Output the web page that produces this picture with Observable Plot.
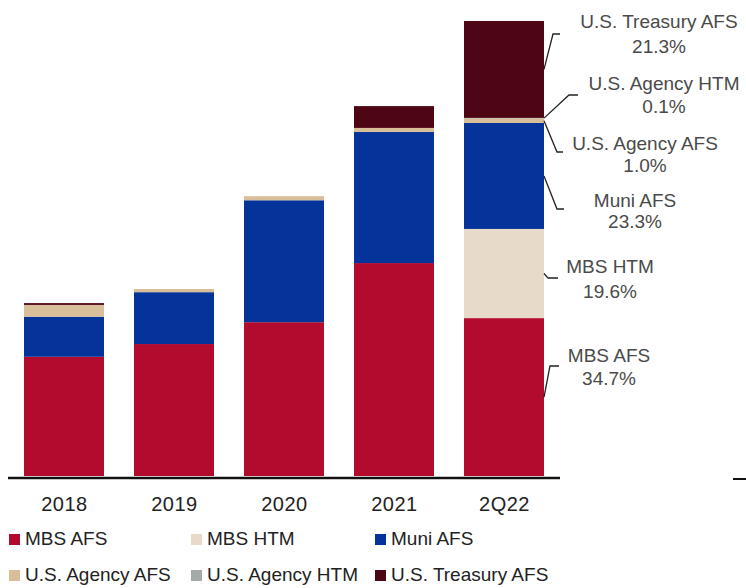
<!DOCTYPE html>
<html><head><meta charset="utf-8">
<script src="https://cdn.jsdelivr.net/npm/d3@7"></script>
<script src="https://cdn.jsdelivr.net/npm/@observablehq/plot@0.6"></script>
<style>
body{margin:0;background:#fff;font-family:"Liberation Sans",Arial,sans-serif;}
#wrap{position:relative;width:746px;height:588px;overflow:hidden;background:#fff}
#wrap svg{display:block}
.leg{position:absolute;font-size:19px;line-height:22px;color:#222;white-space:nowrap;padding-left:16px}
.leg i{position:absolute;width:11px;height:11px;left:0;top:6px}
.dash{position:absolute;left:733px;top:478px;width:13px;height:2px;background:#111}
</style></head><body><div id="wrap"></div>
<script>
// ---- data (2Q22 total = 100) ----
const years = ["2018", "2019", "2020", "2021", "2Q22"];
const seriesNames = ["MBS AFS", "MBS HTM", "Muni AFS", "U.S. Agency AFS", "U.S. Agency HTM", "U.S. Treasury AFS"];
const mbsAfs      = [26.2, 29.0, 33.8, 46.8, 34.7];
const mbsHtm      = [0.0,  0.0,  0.0,  0.0,  19.6];
const muniAfs     = [8.8,  11.4, 26.8, 28.8, 23.3];
const agencyAfs   = [2.6,  0.7,  0.9,  0.9,  1.0];
const agencyHtm   = [0.0,  0.0,  0.0,  0.0,  0.1];
const treasuryAfs = [0.4,  0.0,  0.0,  4.8,  21.3];
const shareLabels = ["34.7%", "19.6%", "23.3%", "1.0%", "0.1%", "21.3%"];

// ---- styles ----
const colors = ["#B30B2E", "#E7DAC8", "#04339A", "#D8BF99", "#A4AAA7", "#4F0614"];

const seriesValues = [mbsAfs, mbsHtm, muniAfs, agencyAfs, agencyHtm, treasuryAfs];
const rows = [];
seriesNames.forEach((s, si) => years.forEach((y, yi) => rows.push({year: y, series: s, value: seriesValues[si][yi]})));

const W = 746, H = 520;
const plot = Plot.plot({
  width: W, height: H,
  marginLeft: 8, marginRight: 186, marginTop: 21, marginBottom: H - 476,
  style: {fontFamily: '"Liberation Sans", Arial, sans-serif', background: "#fff"},
  x: {domain: years, paddingInner: 0.276, paddingOuter: 0.138, label: null},
  y: {domain: [0, 100], axis: null},
  color: {domain: seriesNames, range: colors},
  marks: [
    Plot.barY(rows, {x: "year", y: "value", fill: "series", order: seriesNames}),
    Plot.ruleY([0], {stroke: "#111", strokeWidth: 2.5, dy: 1.5}),
    Plot.axisX({tickSize: 0, tickPadding: 20, fontSize: 20, fill: "#222", label: null})
  ]
});
plot.querySelectorAll('[aria-label="x-axis tick label"] text').forEach(t => t.setAttribute("letter-spacing", "0.5"));

// ---- annotations for 2Q22 (layout only) ----
const annot = [
  {i: 5, elbow: [553, 34], end: [560, 34], tx: 659, ty: [28, 53]},
  {i: 4, elbow: [569, 95], end: [578, 95], tx: 664, ty: [90, 113]},
  {i: 3, elbow: [557, 152], end: [563, 152], tx: 645, ty: [150, 172]},
  {i: 2, elbow: [557, 209], end: [564, 209], tx: 635, ty: [207, 228]},
  {i: 1, elbow: [548, 278], end: [558, 278], tx: 610, ty: [273, 298]},
  {i: 0, elbow: [550, 366], end: [559, 366], tx: 609, ty: [362, 385]}
];
const sx = plot.scale("x"), sy = plot.scale("y");
const last = years.length - 1;
const R = sx.apply(years[last]) + sx.bandwidth;
const cum = [];
let acc = 0;
seriesValues.forEach(v => { cum.push([acc, acc + v[last]]); acc += v[last]; });
const g = d3.select(plot).append("g");
annot.forEach(a => {
  const [lo, hi] = cum[a.i];
  const ay = (sy.apply(lo) + sy.apply(hi)) / 2;
  g.append("path")
    .attr("d", `M${R},${ay}L${a.elbow[0]},${a.elbow[1]}L${a.end[0]},${a.end[1]}`)
    .attr("fill", "none").attr("stroke", "#222").attr("stroke-width", 1.3);
  const t = g.append("text").attr("text-anchor", "middle").attr("fill", "#4a4a4a")
    .attr("font-size", 19).attr("font-family", '"Liberation Sans", Arial, sans-serif');
  t.append("tspan").attr("x", a.tx).attr("y", a.ty[0]).text(seriesNames[a.i]);
  t.append("tspan").attr("x", a.tx).attr("y", a.ty[1]).text(shareLabels[a.i]);
});

const wrap = document.getElementById("wrap");
wrap.appendChild(plot);

// ---- legend (HTML below the SVG) ----
const legPos = [[9, 528], [191, 528], [375, 528], [9, 564], [191, 564], [375, 564]];
seriesNames.forEach((s, i) => {
  const d = document.createElement("div");
  d.className = "leg";
  d.style.left = legPos[i][0] + "px";
  d.style.top = legPos[i][1] + "px";
  d.innerHTML = `<i style="background:${colors[i]}"></i>${s}`;
  wrap.appendChild(d);
});
const dash = document.createElement("div");
dash.className = "dash";
wrap.appendChild(dash);
</script></body></html>
